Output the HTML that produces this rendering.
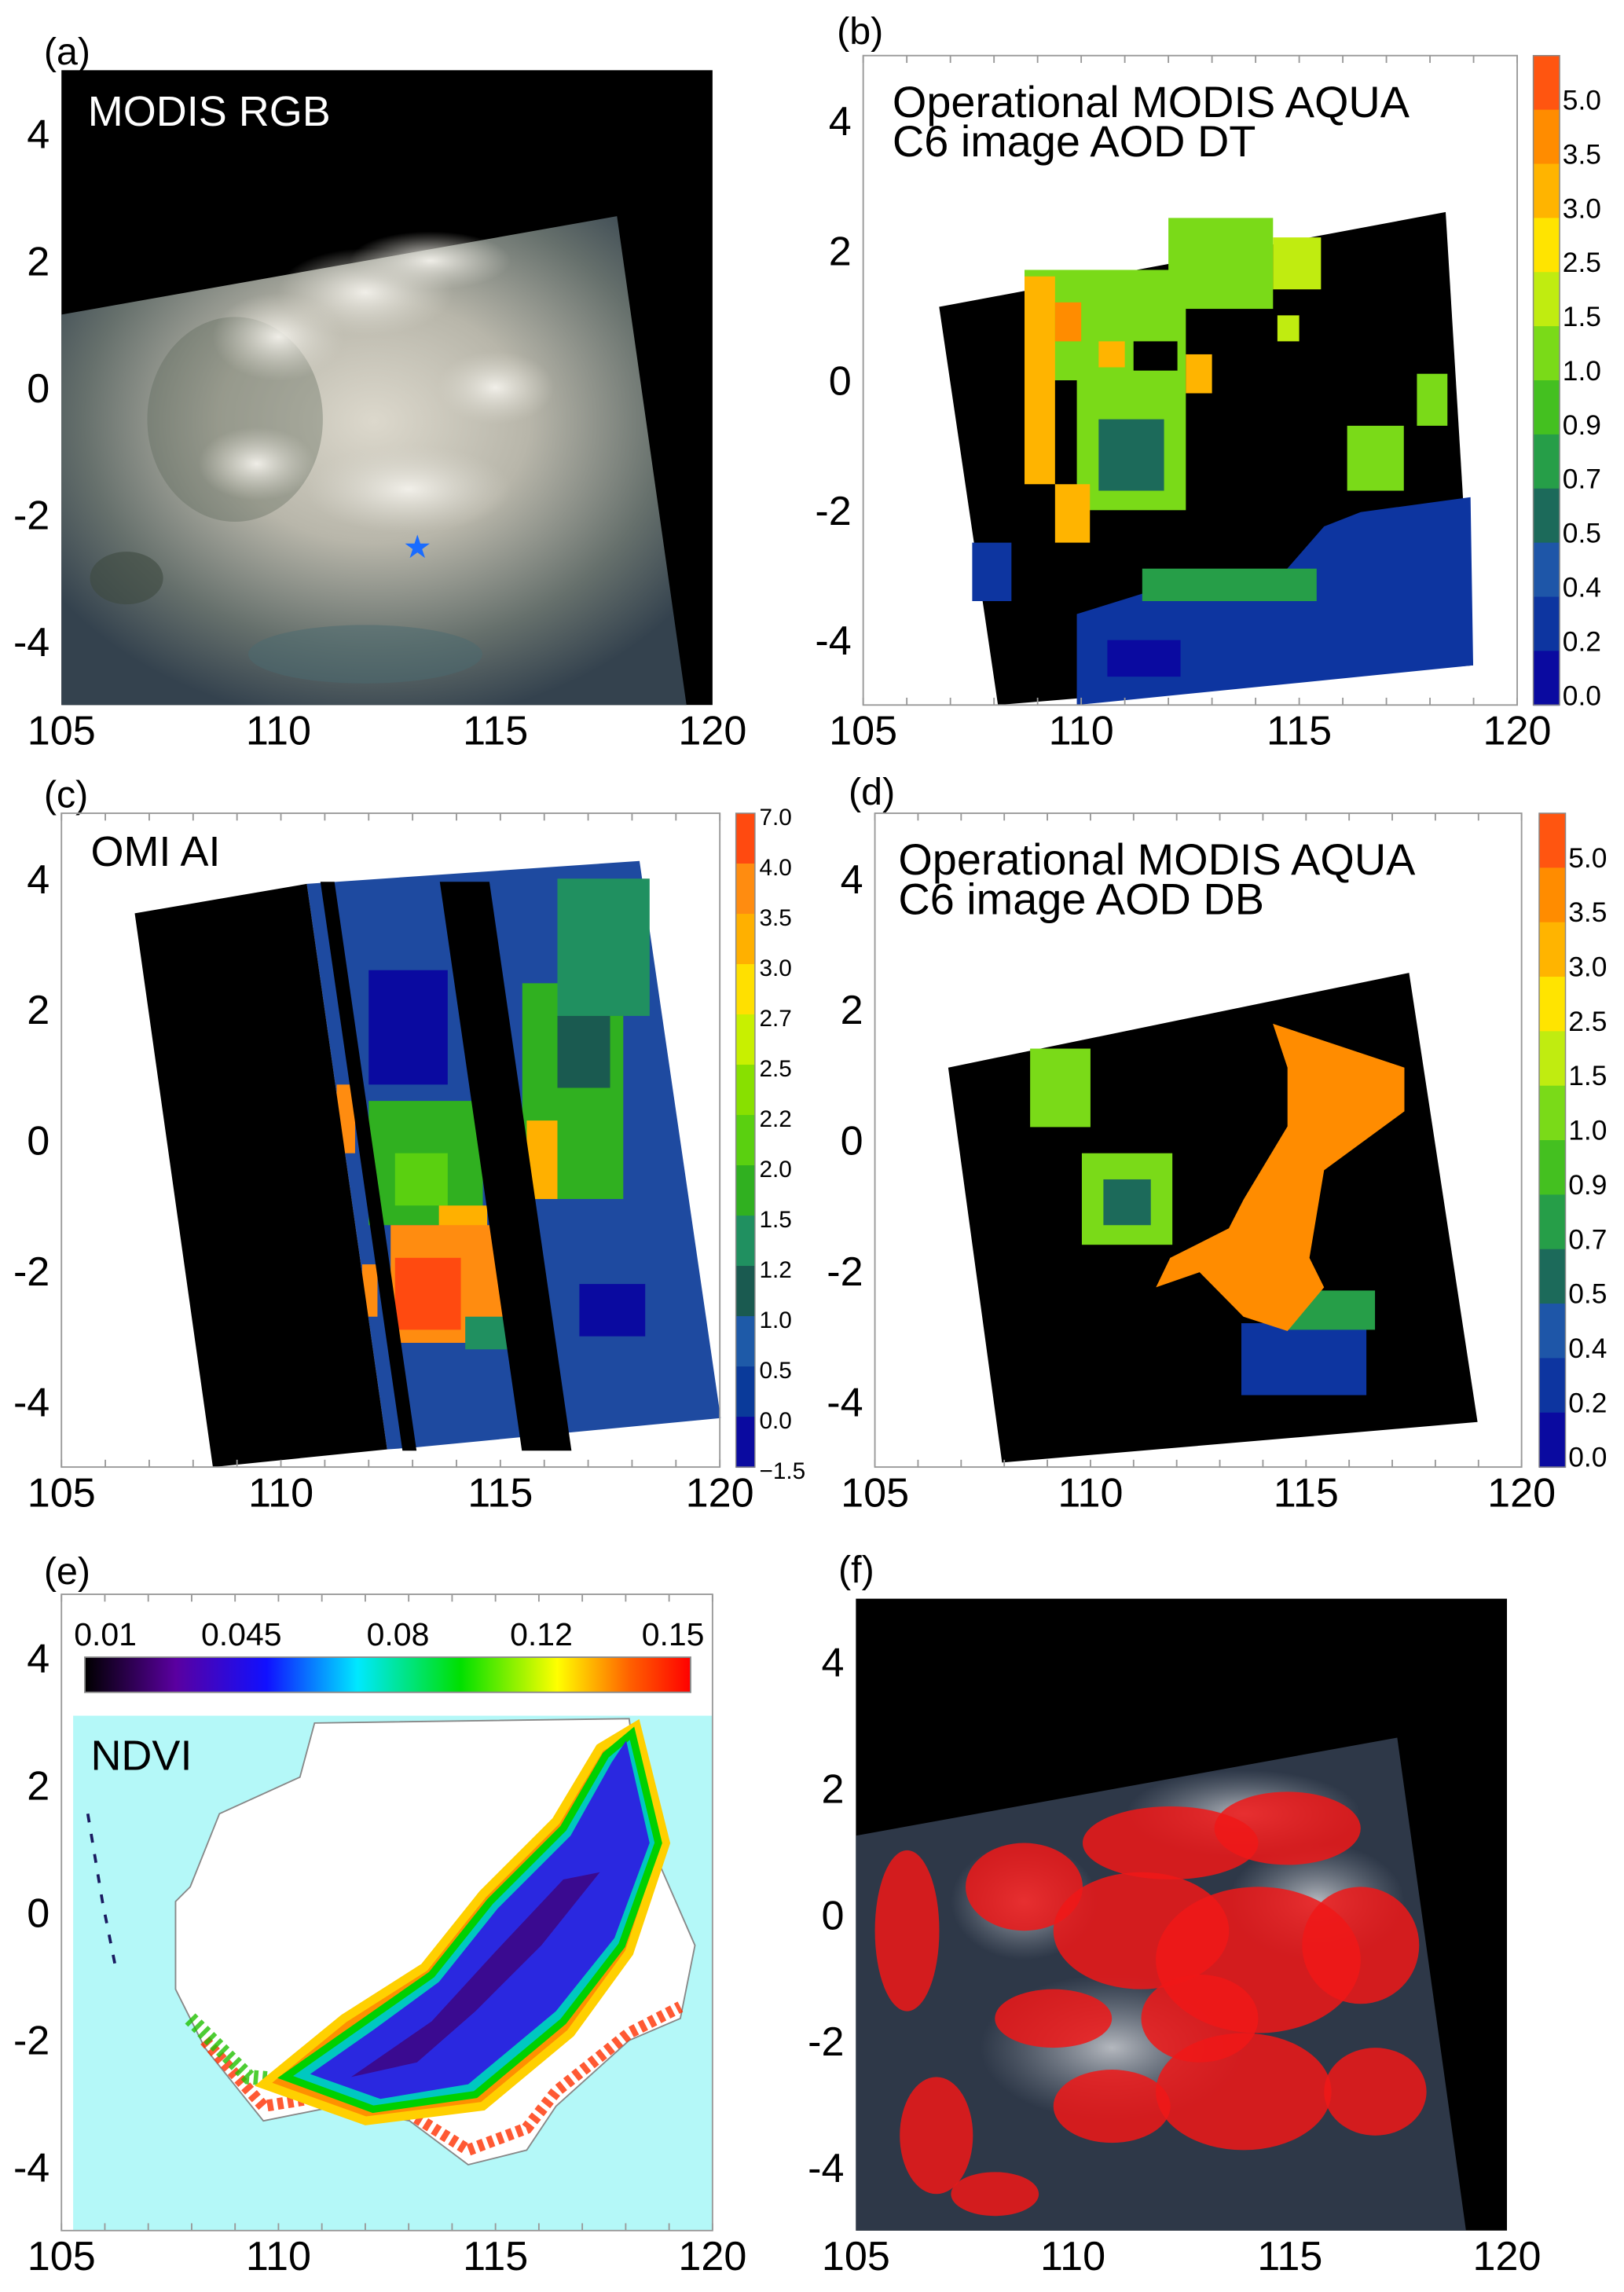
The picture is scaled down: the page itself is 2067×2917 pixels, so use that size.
<!DOCTYPE html>
<html><head><meta charset="utf-8"><style>
html,body{margin:0;padding:0;background:#fff;}
svg{display:block;font-family:"Liberation Sans",sans-serif;}
</style></head><body>
<svg id="fig" width="2067" height="2917" viewBox="0 0 1110 1567" preserveAspectRatio="none" xmlns="http://www.w3.org/2000/svg">
<defs>
<radialGradient id="haze" cx="0.5" cy="0.42" r="0.62">
<stop offset="0" stop-color="#dcd8cc"/><stop offset="0.4" stop-color="#b8b6aa"/><stop offset="0.75" stop-color="#66706c"/><stop offset="1" stop-color="#34424e"/></radialGradient>
<linearGradient id="ndvibar" x1="0" x2="1" y1="0" y2="0">
<stop offset="0" stop-color="#000000"/><stop offset="0.15" stop-color="#5a00a0"/><stop offset="0.3" stop-color="#1010ff"/><stop offset="0.45" stop-color="#00e8ff"/><stop offset="0.62" stop-color="#00e000"/><stop offset="0.78" stop-color="#ffff00"/><stop offset="0.9" stop-color="#ff6000"/><stop offset="1" stop-color="#ff0000"/></linearGradient>
<radialGradient id="cloudf" cx="0.5" cy="0.5" r="0.5"><stop offset="0" stop-color="#d6d8dc" stop-opacity="0.8"/><stop offset="1" stop-color="#9aa2ac" stop-opacity="0"/></radialGradient>
<radialGradient id="cloudw" cx="0.5" cy="0.5" r="0.5"><stop offset="0" stop-color="#f4f2ec" stop-opacity="0.95"/><stop offset="1" stop-color="#d8d6cc" stop-opacity="0"/></radialGradient>
</defs>
<g id="root"></g>
</svg>
<script>
// ---- data arrays ----
const latTicks = [4, 2, 0, -2, -4];
const lonTicks = [105, 110, 115, 120];
const aodLevels = [5.0, 3.5, 3.0, 2.5, 1.5, 1.0, 0.9, 0.7, 0.5, 0.4, 0.2, 0.0];
const aodColors = ['#ff5510','#ff8c00','#ffb400','#ffe400','#c0ec10','#7ada18','#44c020','#269e48','#1c6a5a','#1e56a8','#0d35a0','#0a0aa0'];
const aiLevels = [7.0, 4.0, 3.5, 3.0, 2.7, 2.5, 2.2, 2.0, 1.5, 1.2, 1.0, 0.5, 0.0, -1.5];
const aiColors = ['#ff4a10','#ff8c10','#ffb000','#ffe000','#c8f000','#88e000','#5ad010','#30b020','#209060','#1a5a50','#1e5aa8','#0a3a9a','#0a0aa0'];
const ndviTicks = [0.01, 0.045, 0.08, 0.12, 0.15];
// panel b cells: [lon0, lat0, lon1, lat1, aod]
const bCells = [
 [108.7,1.7,112.4,0.0,1.2],[112.0,2.5,114.4,1.1,1.2],[114.4,2.2,115.5,1.4,1.5],
 [108.7,1.6,109.4,-1.6,3.2],[109.4,1.2,110.0,0.6,3.6],[110.4,0.6,111.0,0.2,3.2],
 [109.9,0.0,112.4,-2.0,1.1],[110.4,-0.6,111.9,-1.7,0.6],[109.4,-1.6,110.2,-2.5,3.2],
 [111.4,-2.9,115.4,-3.4,0.8],[116.1,-0.7,117.4,-1.7,1.2],[117.7,0.1,118.4,-0.7,1.2],
 [107.5,-2.5,108.4,-3.4,0.3],[112.4,0.4,113.0,-0.2,3.2],[114.5,1.0,115.0,0.6,2.0]];
const bBlue = [[109.9,-5.0],[109.9,-3.6],[112.05,-3.15],[114.4,-3.15],[115.57,-2.25],[116.41,-2.03],[118.93,-1.8],[118.99,-4.39]];
// panel c cells (AI)
const cCells = [
 [112.0,2.6,113.8,0.85,-0.5],[112.0,0.6,114.6,-1.3,1.6],[112.6,-0.2,113.8,-1.0,2.1],
 [113.6,-1.0,114.7,-1.7,3.2],[112.5,-1.3,115.1,-3.1,3.8],[112.6,-1.8,114.1,-2.9,4.5],
 [111.27,0.85,111.69,-0.2,3.8],[111.85,-1.9,112.2,-2.7,3.6],[115.5,2.4,117.8,-0.9,1.6],
 [115.6,0.3,116.3,-0.9,3.0],[116.3,4.0,118.4,1.9,1.3],[116.3,1.9,117.5,0.8,1.1],
 [116.8,-2.2,118.3,-3.0,-0.5],[114.2,-2.7,115.6,-3.2,1.3]];
// panel d orange blob outline and cells
const dBlob = [[114.23,1.78],[117.28,1.11],[117.28,0.44],[115.42,-0.46],[115.08,-1.80],[115.42,-2.25],[114.57,-2.92],[113.55,-2.70],[112.53,-2.02],[111.52,-2.25],[111.85,-1.80],[113.21,-1.35],[113.55,-0.91],[114.57,0.21],[114.57,1.11]];
const dCells = [[109.8,-0.2,111.9,-1.6,1.0],[110.3,-0.6,111.4,-1.3,0.6],[108.6,1.4,110.0,0.2,1.2],[113.5,-2.8,116.4,-3.9,0.3],[114.6,-2.3,116.6,-2.9,0.8]];

// ---- layout ----
const svgNS = 'http://www.w3.org/2000/svg';
const root = document.getElementById('root');
const panels = {
 a:{x0:42,y0:48,x1:487,y1:482},
 b:{x0:590,y0:38,x1:1037,y1:482},
 c:{x0:42,y0:556,x1:492,y1:1003},
 d:{x0:598,y0:556,x1:1040,y1:1003},
 e:{x0:42,y0:1090,x1:487,y1:1525},
 f:{x0:585,y0:1093,x1:1030,y1:1525}
};
function lx(p,lon){return p.x0+(lon-105)/15*(p.x1-p.x0);}
function ly(p,lat){return p.y0+(5-lat)/10*(p.y1-p.y0);}
function mk(tag,attrs,parent){const e=document.createElementNS(svgNS,tag);for(const k in attrs)e.setAttribute(k,attrs[k]);(parent||root).appendChild(e);return e;}
function pts(p,arr){return arr.map(q=>lx(p,q[0]).toFixed(1)+','+ly(p,q[1]).toFixed(1)).join(' ');}
function aodColor(v){for(let i=0;i<aodLevels.length;i++){if(v>=aodLevels[i])return aodColors[i];}return aodColors[aodColors.length-1];}
function aiColor(v){for(let i=0;i<aiColors.length;i++){if(v>=aiLevels[i+1])return aiColors[i];}return aiColors[aiColors.length-1];}
function cellRect(p,c,col,g,name){const x=lx(p,c[0]),y=ly(p,c[1]);const r=mk('rect',{x:x,y:y,width:lx(p,c[2])-x,height:ly(p,c[3])-y,fill:col},g);

return r;}
function axes(key,label){
 const p=panels[key];const g=mk('g',{});
 
 
 const t=mk('text',{x:p.x0-12,y:p.y0-5,'font-size':26,fill:'#000'},g);t.textContent=label;
 
 
 if(key==='a'||key==='f'){t.setAttribute('y',key==='a'?44:1082);}
 if(key==='b'||key==='d'){t.setAttribute('x',p.x0-18);t.setAttribute('y',p.y0-8);}
 if(key==='d'){t.setAttribute('y',550);}
 if(key==='c'){t.setAttribute('y',552);}
 if(key==='e'){t.setAttribute('y',1083);}
 latTicks.forEach(v=>{const tt=mk('text',{x:p.x0-8,y:ly(p,v)+10,'font-size':28,'text-anchor':'end',fill:'#000'},g);tt.textContent=String(v);
  
  });
 lonTicks.forEach(v=>{const tt=mk('text',{x:lx(p,v),y:p.y1+27,'font-size':28,'text-anchor':'middle',fill:'#000'},g);tt.textContent=String(v);
  
  });
 return g;
}
function frame(key){const p=panels[key];const r=mk('rect',{x:p.x0,y:p.y0,width:p.x1-p.x0,height:p.y1-p.y0,fill:'none',stroke:'#999','stroke-width':1});
 
 
 lonTicks.concat([106,107,108,109,111,112,113,114,116,117,118,119]).forEach(v=>{mk('line',{x1:lx(p,v),x2:lx(p,v),y1:p.y1,y2:p.y1-5,stroke:'#999'});mk('line',{x1:lx(p,v),x2:lx(p,v),y1:p.y0,y2:p.y0+5,stroke:'#999'});});
}
function colorbar(x,y0,y1,w,cols,name){
 const g=mk('g',{});
 
 
 const h=(y1-y0)/cols.length;
 cols.forEach((c,i)=>{const r=mk('rect',{x:x,y:y0+i*h,width:w,height:h+0.5,fill:c},g);
  
  });
 mk('rect',{x:x,y:y0,width:w,height:y1-y0,fill:'none',stroke:'#888','stroke-width':0.8},g);
 return {g:g,h:h};
}

// ===== Panel a =====
(function(){const p=panels.a;const g=axes('a','(a)');
 const bg=mk('rect',{x:p.x0,y:p.y0,width:p.x1-p.x0,height:p.y1-p.y0,fill:'#000'},g);
 
 
 const sc=mk('polygon',{points:pts(p,[[105,1.15],[117.8,2.7],[119.4,-5],[105,-5]]),fill:'url(#haze)'},g);
 
 
 mk('ellipse',{cx:lx(p,109),cy:ly(p,-0.5),rx:60,ry:70,fill:'#5a6456',opacity:0.35},g);
 [[112,1.5,60,30],[113.5,2.0,55,20],[110,0.8,45,30],[113,-1.6,70,30],[115,0,40,25],[109.5,-1.2,40,25]].forEach(c=>{mk('ellipse',{cx:lx(p,c[0]),cy:ly(p,c[1]),rx:c[2],ry:c[3],fill:'url(#cloudw)'},g);});
 mk('ellipse',{cx:lx(p,106.5),cy:ly(p,-3),rx:25,ry:18,fill:'#3e4a40',opacity:0.6},g);
 mk('ellipse',{cx:lx(p,112),cy:ly(p,-4.2),rx:80,ry:20,fill:'#4a6a70',opacity:0.5},g);
 const st=mk('text',{x:lx(p,113.2),y:ly(p,-2.5)+8,'font-size':22,'text-anchor':'middle',fill:'#1a6cff'},g);st.textContent='★';
 
 
 const t=mk('text',{x:60,y:86,'font-size':29,fill:'#fff'},g);t.textContent='MODIS RGB';
 
 
})();

// ===== Panel b =====
(function(){const p=panels.b;const g=axes('b','(b)');frame('b');
 const q=mk('polygon',{points:pts(p,[[106.74,1.13],[118.36,2.59],[118.99,-4.39],[108.09,-5.0]]),fill:'#000'},g);
 
 
 const bl=mk('polygon',{points:pts(p,bBlue),fill:aodColor(0.2)},g);
 
 
 bCells.forEach(c=>cellRect(p,c,aodColor(c[4]),g,'aod-cell'));
 mk('rect',{x:lx(p,110.6),y:ly(p,-4.0),width:50,height:25,fill:aodColor(0.0)},g);
 mk('rect',{x:lx(p,111.2),y:ly(p,0.6),width:30,height:20,fill:'#000'},g);
 const t=mk('text',{x:610,y:80,'font-size':30,fill:'#000'},g);t.textContent='Operational MODIS AQUA';
 
 
 const t2=mk('text',{x:610,y:107,'font-size':30,fill:'#000'},g);t2.textContent='C6  image AOD DT';
 
 
 const cb=colorbar(1048,38,482,18,aodColors,'colorbar-b');
 aodLevels.forEach((v,i)=>{const tt=mk('text',{x:1068,y:38+i*cb.h+37,'font-size':19,fill:'#000'},cb.g);tt.textContent=v.toFixed(1);
  
  });
})();

// ===== Panel c =====
(function(){const p=panels.c;const g=axes('c','(c)');frame('c');
 const sh=0.215;
 function strip(l0,l1,col,name){const a=[[l0,3.95],[l1,3.95],[l1+sh*8.7,-4.75],[l0+sh*8.7,-4.75]];const e=mk('polygon',{points:pts(p,a),fill:col},g);
  
  }
 const bg=mk('polygon',{points:pts(p,[[110.59,3.92],[118.17,4.27],[120.02,-4.25],[116.6,-4.47],[113.05,-4.7],[112.42,-4.73]]),fill:'#1e4aa0'},g);
 
 
 cCells.forEach(c=>cellRect(p,c,aiColor(c[4]),g,'ai-cell'));
 const lb=mk('polygon',{points:pts(p,[[106.67,3.47],[110.59,3.92],[112.42,-4.73],[108.45,-5.0]]),fill:'#000'},g);
 
 
 strip(110.9,111.22,'#000','gap-stripe-narrow');
 strip(113.62,114.75,'#000','gap-stripe-wide');
 const t=mk('text',{x:62,y:592,'font-size':29,fill:'#000'},g);t.textContent='OMI AI';
 
 
 const cb=colorbar(503,556,1003,13,aiColors,'colorbar-c');
 aiLevels.forEach((v,i)=>{const tt=mk('text',{x:519,y:556+i*cb.h+8,'font-size':16,fill:'#000'},cb.g);tt.textContent=(v<0?'−':'')+Math.abs(v).toFixed(1);
  
  });
})();

// ===== Panel d =====
(function(){const p=panels.d;const g=axes('d','(d)');frame('d');
 const q=mk('polygon',{points:pts(p,[[106.70,1.11],[117.39,2.56],[118.98,-4.31],[107.95,-4.93]]),fill:'#000'},g);
 
 
 dCells.forEach(c=>cellRect(p,c,aodColor(c[4]),g,'aod-cell'));
 const bl=mk('polygon',{points:pts(p,dBlob),fill:aodColor(4.0)},g);
 
 
 const t=mk('text',{x:614,y:598,'font-size':30,fill:'#000'},g);t.textContent='Operational MODIS AQUA';
 
 
 const t2=mk('text',{x:614,y:625,'font-size':30,fill:'#000'},g);t2.textContent='C6  image AOD DB';
 
 
 const cb=colorbar(1052,556,1003,18,aodColors,'colorbar-d');
 aodLevels.forEach((v,i)=>{const tt=mk('text',{x:1072,y:556+i*cb.h+37,'font-size':19,fill:'#000'},cb.g);tt.textContent=v.toFixed(1);
  
  });
})();

// ===== Panel e =====
(function(){const p=panels.e;const g=axes('e','(e)');frame('e');
 const bg=mk('rect',{x:50,y:1173,width:437,height:352,fill:'#b4f8f8'},g);
 
 
 const land=mk('polygon',{points:'130,1290 150,1240 205,1215 215,1178 430,1175 440,1250 475,1330 465,1380 430,1395 380,1440 360,1470 320,1480 280,1450 230,1440 180,1450 140,1400 120,1360 120,1300',fill:'#fff',stroke:'#888','stroke-width':1},g);
 
 
 const ring=mk('polyline',{points:'140,1395 180,1440 230,1432 280,1445 320,1470 360,1455 380,1430 430,1390 465,1372',fill:'none',stroke:'#ff3000','stroke-width':8,'stroke-dasharray':'4 3',opacity:0.8},g);
 
 
 mk('polyline',{points:'130,1380 170,1420 230,1425',fill:'none',stroke:'#20c000','stroke-width':10,'stroke-dasharray':'3 3',opacity:0.8},g);
 const band=mk('polygon',{points:'435,1180 455,1260 430,1335 390,1390 330,1440 250,1450 180,1425 235,1380 290,1345 330,1295 380,1245 410,1195',fill:'#ff9000',stroke:'#ffd000','stroke-width':6},g);
 
 
 mk('polygon',{points:'432,1185 450,1260 425,1330 385,1382 325,1432 255,1442 195,1420 245,1385 295,1350 335,1300 385,1250 414,1200',fill:'#00c8c0',stroke:'#00d000','stroke-width':5},g);
 const b2=mk('polygon',{points:'428,1190 444,1260 420,1325 380,1375 320,1425 260,1435 212,1418 255,1388 300,1355 340,1305 390,1255 418,1205',fill:'#2a28e0'},g);
 
 
 mk('polygon',{points:'410,1280 370,1330 325,1375 285,1410 240,1420 295,1382 338,1335 385,1285',fill:'#3a0a90'},g);
 mk('polyline',{points:'60,1240 70,1300 80,1350',fill:'none',stroke:'#1a1a60','stroke-width':2,'stroke-dasharray':'6 8'},g);
 mk('rect',{x:58,y:1133,width:414,height:24,fill:'url(#ndvibar)',stroke:'#888'},g);
 const xs=[72,165,272,370,460];
 ndviTicks.forEach((v,i)=>{const tt=mk('text',{x:xs[i],y:1125,'font-size':22,'text-anchor':'middle',fill:'#000'},g);tt.textContent=String(v);
  
  });
 const t=mk('text',{x:62,y:1210,'font-size':29,fill:'#000'},g);t.textContent='NDVI';
 
 
})();

// ===== Panel f =====
(function(){const p=panels.f;const g=axes('f','(f)');
 const bg=mk('rect',{x:p.x0,y:p.y0,width:p.x1-p.x0,height:p.y1-p.y0,fill:'#000'},g);
 
 
 const sc=mk('polygon',{points:'585,1255 955,1188 1002,1525 585,1525',fill:'#2e3848'},g);
 
 
 [[760,1400,90,50],[850,1240,80,30],[700,1300,50,40],[900,1300,60,40]].forEach(c=>mk('ellipse',{cx:c[0],cy:c[1],rx:c[2],ry:c[3],fill:'url(#cloudf)'},g));
 [[620,1320,22,55],[700,1290,40,30],[800,1260,60,25],[880,1250,50,25],[780,1320,60,40],[860,1340,70,50],[930,1330,40,40],[720,1380,40,20],[850,1430,60,40],[760,1440,40,25],[640,1460,25,40],[940,1430,35,30],[680,1500,30,15],[820,1380,40,30]].forEach(c=>{const e=mk('ellipse',{cx:c[0],cy:c[1],rx:c[2],ry:c[3],fill:'#f01818',opacity:0.85},g);
  
  });
})();
</script>
</body></html>
